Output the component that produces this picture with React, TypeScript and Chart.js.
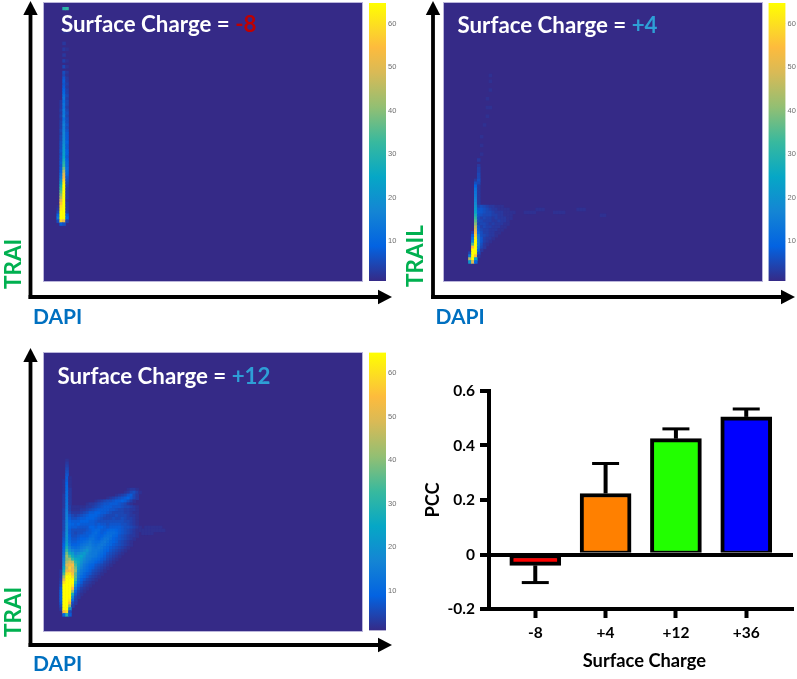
import React, { useEffect, useRef } from "react";
import { Chart, registerables } from "chart.js";

Chart.register(...registerables);

// ---------- data ----------
const barCategories = ["-8", "+4", "+12", "+36"];
const barValues = [-0.04, 0.224, 0.425, 0.505];
const barErrorTips = [-0.103, 0.334, 0.461, 0.534];
const barColors = ["#FF0000", "#FF8000", "#22FF00", "#0000FF"];
const barYTicks = [-0.2, 0, 0.2, 0.4, 0.6];
const colorbarTicks = [10, 20, 30, 40, 50, 60];
const colorbarStops = ["#352A87", "#0363E1", "#1485D4", "#06A7C6", "#38B99E", "#92BF73", "#D9BA56", "#FDBB3D", "#FCD52A", "#FFFF00"];
const colorbarStopAt = [0, 0.125, 0.25, 0.375, 0.5, 0.625, 0.75, 0.84, 0.9, 1];

// density rows: [row, first column, values of the following columns]
const densityMinus8 = [
  [0, 5, 30, 32], [4, 5, 2], [8, 5, 2, 2], [12, 5, 3], [14, 5, 3, 2], [16, 5, 3], [18, 5, 4, 2], [20, 5, 5, 2],
  [22, 5, 6, 3], [23, 5, 5, 2], [24, 5, 7, 3], [25, 5, 8, 3], [26, 5, 7, 4], [27, 5, 8, 3], [28, 5, 9, 4], [29, 5, 10, 4],
  [30, 5, 12, 5], [31, 5, 13, 4], [32, 4, 3, 11, 5], [33, 4, 3, 13, 5], [34, 4, 3, 12, 4], [35, 4, 4, 14, 5], [36, 4, 3, 13, 6],
  [37, 4, 4, 15, 5], [38, 4, 3, 12, 6], [39, 4, 4, 14, 6], [40, 4, 4, 16, 7], [41, 4, 4, 15, 6], [42, 4, 5, 16, 7], [43, 4, 4, 17, 8],
  [44, 4, 5, 17, 8], [45, 4, 5, 18, 8], [46, 4, 6, 18, 9], [47, 4, 6, 20, 8], [48, 4, 6, 21, 8], [49, 4, 7, 22, 9], [50, 4, 6, 23, 9],
  [51, 4, 7, 24, 8], [52, 4, 7, 27, 9], [53, 4, 8, 30, 10], [54, 4, 7, 32, 10], [55, 4, 8, 38, 11], [56, 4, 9, 44, 10], [57, 4, 12, 50, 9],
  [58, 4, 14, 52, 7], [59, 4, 18, 58, 6], [60, 4, 22, 62, 5], [61, 4, 28, 65, 4], [62, 4, 32, 65, 3], [63, 4, 36, 65, 3], [64, 4, 40, 65, 3],
  [65, 4, 44, 65, 3], [66, 4, 50, 65, 2], [67, 4, 56, 65, 3], [68, 3, 2, 60, 65, 3], [69, 3, 3, 62, 65, 3], [70, 3, 5, 65, 65, 4],
  [71, 3, 10, 65, 65, 8], [72, 3, 14, 65, 65, 10], [73, 3, 6, 58, 52, 4], [74, 4, 8, 6],
];
const densityPlus4 = [
  [23, 14, 2], [25, 14, 2], [28, 14, 2], [31, 13, 2], [34, 13, 2, 2], [37, 13, 2], [40, 12, 2], [44, 11, 2], [47, 11, 2], [50, 11, 2],
  [52, 10, 3], [54, 10, 3], [55, 10, 4], [56, 10, 4], [57, 10, 5], [58, 10, 5], [59, 9, 3, 6], [60, 9, 6, 5], [61, 9, 9, 3], [62, 9, 12, 3],
  [63, 9, 13, 3], [64, 9, 14, 3], [65, 9, 15, 3], [66, 9, 16, 3], [67, 9, 18, 3],
  [68, 9, 20, 5, 6, 5, 4, 3, 3, 2, 2, 2], [69, 9, 22, 7, 7, 6, 5, 4, 3, 3, 2, 2, 2, 2],
  [70, 9, 24, 8, 7, 6, 5, 5, 4, 3, 3, 3, 2, 2, 2, 2], [71, 9, 28, 7, 6, 5, 5, 5, 4, 4, 3, 3, 2, 2, 2],
  [72, 9, 32, 6, 4, 5, 4, 4, 3, 4, 3, 3, 3, 2, 2], [73, 9, 36, 6, 5, 4, 4, 4, 3, 3, 4, 3, 3, 2], [74, 9, 40, 5, 5, 5, 4, 3, 4, 3, 3, 3, 2, 2],
  [75, 9, 46, 7, 4, 5, 4, 4, 3, 3, 3, 2, 2], [76, 9, 50, 8, 5, 4, 4, 3, 3, 3, 2, 2], [77, 8, 4, 54, 10, 6, 4, 4, 3, 3, 2, 2],
  [78, 8, 8, 58, 14, 6, 5, 4, 3, 3, 2], [79, 8, 12, 62, 15, 7, 4, 3, 3, 2], [80, 8, 18, 65, 16, 7, 4, 3, 2], [81, 8, 35, 65, 16, 6, 3, 2],
  [82, 8, 55, 65, 14, 5, 3], [83, 8, 65, 65, 10, 3], [84, 7, 5, 65, 65, 6], [85, 7, 15, 65, 55, 3], [86, 7, 45, 65, 25], [87, 7, 22, 50, 10],
  [70, 26, 2, 2, 2, 2], [69, 30, 2, 2, 2], [70, 36, 2, 2, 2, 2], [69, 44, 2, 2, 2], [71, 52, 2, 2],
];
const densityPlus12 = [
  [35, 6, 2], [36, 6, 3], [37, 6, 4], [38, 6, 5], [39, 6, 6], [40, 6, 7], [41, 6, 8, 2], [42, 5, 2, 8, 2], [43, 5, 2, 9, 2], [44, 5, 2, 10, 2],
  [45, 5, 2, 10, 3], [45, 27, 2, 3, 3, 2],
  [46, 5, 2, 11, 3], [46, 26, 2, 3, 5, 6, 4, 2],
  [47, 5, 3, 11, 3], [47, 23, 2, 3, 4, 5, 7, 8, 5, 3],
  [48, 5, 3, 12, 3], [48, 20, 2, 3, 4, 5, 6, 7, 8, 9, 7, 5, 3],
  [49, 5, 3, 12, 3], [49, 16, 2, 3, 4, 5, 6, 6, 7, 8, 8, 9, 8, 6, 4, 2],
  [50, 5, 3, 13, 3], [50, 13, 2, 3, 3, 4, 5, 6, 7, 7, 8, 8, 8, 7, 6, 5, 3, 2],
  [51, 5, 3, 13, 4, 2, 2, 2, 2, 2, 3, 3, 4, 5, 6, 7, 8, 8, 8, 7, 7, 7, 6, 5, 5, 4, 3, 2],
  [52, 5, 4, 14, 4, 2, 2, 2, 3, 3, 4, 5, 6, 7, 8, 8, 8, 8, 7, 7, 6, 5, 5, 4, 4, 3, 3, 2],
  [53, 5, 4, 15, 5, 3, 3, 3, 4, 5, 6, 8, 8, 9, 9, 8, 8, 7, 6, 5, 5, 5, 5, 4, 4, 3, 2, 2],
  [54, 5, 4, 15, 7, 5, 4, 5, 6, 7, 8, 9, 9, 9, 8, 7, 6, 5, 5, 5, 6, 5, 5, 5, 4, 3, 3, 2],
  [55, 5, 4, 16, 8, 6, 6, 7, 8, 8, 9, 9, 9, 8, 7, 6, 5, 5, 5, 6, 5, 5, 6, 5, 4, 4, 3, 2],
  [56, 5, 5, 16, 9, 8, 8, 8, 9, 9, 9, 8, 8, 7, 6, 6, 6, 6, 6, 6, 6, 6, 6, 5, 5, 4, 3, 2],
  [57, 5, 5, 17, 10, 9, 8, 9, 8, 8, 8, 8, 8, 7, 8, 7, 7, 6, 7, 7, 7, 7, 6, 6, 5, 4, 3, 2],
  [58, 5, 5, 18, 9, 8, 8, 7, 7, 7, 7, 9, 9, 8, 9, 9, 8, 7, 8, 8, 8, 8, 7, 6, 6, 5, 4, 3, 2],
  [58, 33, 2, 2, 2, 2, 2, 2],
  [59, 5, 5, 18, 8, 6, 6, 6, 6, 6, 7, 8, 9, 10, 10, 8, 8, 9, 10, 10, 9, 8, 7, 6, 5, 4, 3, 2, 2],
  [59, 32, 2, 2, 2, 2, 2, 2, 2, 2],
  [60, 5, 6, 19, 8, 6, 5, 6, 6, 7, 8, 8, 10, 11, 9, 8, 9, 11, 11, 11, 10, 8, 7, 6, 5, 4, 3, 2],
  [60, 32, 2, 2, 2, 2],
  [61, 5, 6, 20, 9, 6, 6, 7, 8, 8, 8, 10, 11, 10, 9, 9, 11, 12, 12, 10, 9, 7, 6, 5, 4, 3, 3, 2],
  [62, 5, 7, 20, 10, 7, 7, 8, 9, 9, 10, 12, 12, 10, 9, 11, 13, 13, 11, 9, 8, 7, 6, 5, 4, 3, 2],
  [63, 5, 8, 22, 11, 8, 8, 9, 10, 11, 12, 14, 12, 11, 11, 13, 14, 12, 10, 9, 8, 6, 5, 4, 3, 2],
  [64, 5, 9, 24, 13, 9, 9, 10, 12, 13, 14, 15, 13, 12, 13, 14, 13, 11, 10, 8, 7, 6, 5, 4, 3, 2],
  [65, 5, 10, 28, 16, 12, 11, 12, 14, 15, 17, 16, 14, 13, 14, 13, 11, 10, 8, 7, 6, 5, 4, 3, 2],
  [66, 5, 11, 32, 20, 16, 14, 14, 16, 18, 20, 16, 14, 14, 13, 12, 10, 9, 7, 6, 5, 4, 3, 2],
  [67, 5, 12, 38, 26, 22, 16, 18, 20, 22, 18, 15, 14, 14, 12, 11, 9, 7, 6, 5, 4, 3, 2],
  [68, 5, 14, 42, 34, 26, 20, 22, 24, 20, 16, 15, 14, 13, 11, 10, 8, 6, 5, 4, 3, 2],
  [69, 5, 16, 40, 42, 32, 26, 24, 22, 18, 15, 14, 12, 11, 10, 8, 7, 5, 4, 3, 2],
  [70, 5, 18, 44, 48, 46, 30, 26, 20, 16, 14, 12, 11, 9, 8, 7, 5, 4, 3, 2],
  [71, 5, 20, 50, 52, 54, 34, 24, 18, 14, 12, 10, 9, 7, 6, 5, 4, 3, 2],
  [72, 5, 24, 46, 58, 50, 38, 22, 16, 13, 11, 9, 8, 6, 5, 4, 3, 2],
  [73, 4, 3, 28, 52, 55, 52, 40, 20, 14, 12, 10, 8, 6, 5, 4, 3, 2],
  [74, 4, 3, 34, 60, 62, 56, 36, 18, 13, 10, 8, 7, 5, 4, 3, 2],
  [75, 4, 3, 42, 65, 65, 60, 36, 16, 11, 9, 7, 5, 4, 3, 2],
  [76, 4, 4, 50, 65, 65, 65, 34, 14, 9, 7, 5, 4, 3, 2],
  [77, 4, 5, 60, 65, 65, 65, 28, 12, 8, 5, 4, 3, 2],
  [78, 4, 6, 65, 65, 65, 62, 20, 9, 6, 4, 3, 2],
  [79, 4, 8, 65, 65, 65, 55, 14, 7, 4, 3, 2],
  [80, 4, 10, 65, 65, 65, 42, 10, 5, 3, 2],
  [81, 4, 10, 65, 65, 65, 28, 7, 4, 2],
  [82, 4, 10, 65, 65, 65, 18, 5, 3],
  [83, 4, 10, 65, 65, 62, 12, 4],
  [84, 4, 8, 65, 65, 55, 6, 3],
  [85, 4, 6, 65, 65, 40, 4],
  [86, 4, 4, 65, 65, 20],
  [87, 5, 55, 60, 6],
  [88, 5, 10, 30, 8],
];

const FONT = "Lato, 'Open Sans', sans-serif";
const BG = "#352A87";
const HEAT_COLS = 106;
const HEAT_ROWS = 278 / 3;
const OVER_PAD = 12;

type Panel = {
  key: string; left: number; top: number; rows: number[][];
  imgX: number; imgY: number; barX: number;
  titleX: number; titleY: number; charge: string; chargeColor: string;
  yLabel: string; yLabelX: number; yLabelBottom: number;
  dapiX: number; dapiY: number;
  vX: number; vTop: number; hY: number; hEnd: number;
};

const panels: Panel[] = [
  { key: "a", left: 0, top: 0, rows: densityMinus8, imgX: 43.5, imgY: 3, barX: 369, titleX: 61, titleY: 32, charge: "-8", chargeColor: "#C00000", yLabel: "TRAI", yLabelX: 21, yLabelBottom: 289, dapiX: 33, dapiY: 324, vX: 30.5, vTop: 1, hY: 297, hEnd: 392 },
  { key: "b", left: 400, top: 0, rows: densityPlus4, imgX: 43.5, imgY: 3, barX: 368.5, titleX: 57.5, titleY: 33, charge: "+4", chargeColor: "#2E9FD6", yLabel: "TRAIL", yLabelX: 23, yLabelBottom: 287, dapiX: 35.5, dapiY: 324, vX: 33, vTop: 1, hY: 297, hEnd: 395 },
  { key: "c", left: 0, top: 340, rows: densityPlus12, imgX: 44, imgY: 12.5, barX: 369, titleX: 57.5, titleY: 44, charge: "+12", chargeColor: "#2E9FD6", yLabel: "TRAI", yLabelX: 21, yLabelBottom: 297, dapiX: 33, dapiY: 331, vX: 30.5, vTop: 8, hY: 305, hEnd: 392 },
];

function hexToRgb(h: string) {
  return [1, 3, 5].map((i) => parseInt(h.slice(i, i + 2), 16));
}
function colorOf(v: number) {
  const t = Math.min(1, Math.max(0, (v - 1) / 64));
  let i = 0;
  while (i < colorbarStopAt.length - 2 && t > colorbarStopAt[i + 1]) i++;
  const f = (t - colorbarStopAt[i]) / (colorbarStopAt[i + 1] - colorbarStopAt[i]);
  const a = hexToRgb(colorbarStops[i]);
  const b = hexToRgb(colorbarStops[i + 1]);
  return `rgb(${a.map((c, k) => Math.round(c + (b[k] - c) * f)).join(",")})`;
}
function toPoints(rows: number[][]) {
  return rows.flatMap(([r, c, ...vals]) => vals.map((v, i) => ({ x: c + i + 0.5, y: r + 0.5, v })));
}

function makeHeat(canvas: HTMLCanvasElement, rows: number[][]) {
  const points = toPoints(rows);
  return new Chart(canvas, {
    type: "scatter",
    data: {
      datasets: [{
        data: points as any,
        pointStyle: "rect",
        pointRadius: 2.5,
        pointBorderWidth: 0,
        pointBackgroundColor: points.map((p) => colorOf(p.v)),
      }],
    },
    options: {
      animation: false, responsive: false, events: [],
      layout: { padding: 0 },
      plugins: { legend: { display: false }, tooltip: { enabled: false } },
      scales: {
        x: { type: "linear", display: false, min: 0, max: HEAT_COLS },
        y: { type: "linear", display: false, min: 0, max: HEAT_ROWS, reverse: true },
      },
    },
  });
}

function arrow(ctx: CanvasRenderingContext2D, x1: number, y1: number, x2: number, y2: number) {
  const a = Math.atan2(y2 - y1, x2 - x1);
  const L = 14;
  const W = 7.2;
  const bx = x2 - L * Math.cos(a);
  const by = y2 - L * Math.sin(a);
  ctx.fillStyle = "#000";
  ctx.strokeStyle = "#000";
  ctx.lineWidth = 3.8;
  ctx.beginPath();
  ctx.moveTo(x1, y1);
  ctx.lineTo(bx, by);
  ctx.stroke();
  ctx.beginPath();
  ctx.moveTo(x2, y2);
  ctx.lineTo(bx - W * Math.sin(a), by + W * Math.cos(a));
  ctx.lineTo(bx + W * Math.sin(a), by - W * Math.cos(a));
  ctx.closePath();
  ctx.fill();
}

function makeOverlay(canvas: HTMLCanvasElement, p: Panel) {
  const annotate = {
    id: "annotate",
    afterDraw(chart: any) {
      const ctx = chart.ctx as CanvasRenderingContext2D;
      ctx.save();
      ctx.translate(0, OVER_PAD);
      arrow(ctx, p.vX, p.hY + 1.9, p.vX, p.vTop);
      arrow(ctx, p.vX - 1.9, p.hY, p.hEnd, p.hY);
      ctx.textBaseline = "alphabetic";
      ctx.textAlign = "left";
      ctx.font = `bold 22.3px ${FONT}`;
      const head = "Surface Charge = ";
      ctx.fillStyle = "#fff";
      ctx.fillText(head, p.titleX, p.titleY);
      ctx.fillStyle = p.chargeColor;
      ctx.fillText(p.charge, p.titleX + ctx.measureText(head).width, p.titleY);
      ctx.font = `bold 21px ${FONT}`;
      ctx.fillStyle = "#0070C0";
      ctx.fillText("DAPI", p.dapiX, p.dapiY);
      ctx.font = `bold 22.5px ${FONT}`;
      ctx.fillStyle = "#00B050";
      ctx.translate(p.yLabelX, p.yLabelBottom);
      ctx.rotate(-Math.PI / 2);
      ctx.fillText(p.yLabel, 0, 0);
      ctx.restore();
    },
  };
  return new Chart(canvas, {
    type: "bar",
    data: {
      labels: ["colorbar"],
      datasets: [{
        data: [[0.8, 64.8]] as any,
        barPercentage: 1,
        categoryPercentage: 1,
        backgroundColor: (c: any) => {
          const area = c.chart.chartArea;
          if (!area) return BG;
          const g = c.chart.ctx.createLinearGradient(0, area.bottom, 0, area.top);
          colorbarStops.forEach((s, i) => g.addColorStop(colorbarStopAt[i], s));
          return g;
        },
      }],
    },
    options: {
      animation: false, responsive: false, events: [],
      layout: { padding: { left: p.barX, top: p.imgY + OVER_PAD, bottom: 340 - p.imgY - 278, right: 0 } },
      plugins: { legend: { display: false }, tooltip: { enabled: false } },
      scales: {
        x: { display: false },
        y: {
          position: "right",
          min: 0.8,
          max: 64.8,
          afterBuildTicks: (s: any) => { s.ticks = colorbarTicks.map((value) => ({ value })); },
          afterFit: (s: any) => { s.width = 400 - p.barX - 17; },
          grid: { drawOnChartArea: false, tickLength: 0 },
          border: { display: false },
          ticks: { color: "#6E6E6E", padding: 2, font: { family: "'Liberation Sans', sans-serif", size: 7.5 } },
        },
      },
    },
    plugins: [annotate],
  });
}

function makeBars(canvas: HTMLCanvasElement) {
  const errorBars = {
    id: "errorBars",
    afterDatasetsDraw(chart: any) {
      const ctx = chart.ctx as CanvasRenderingContext2D;
      const xs = chart.scales.x;
      const ys = chart.scales.y;
      ctx.save();
      ctx.strokeStyle = "#000";
      barErrorTips.forEach((tip, i) => {
        const x = xs.getPixelForValue(i);
        const y0 = ys.getPixelForValue(barValues[i]);
        const y1 = ys.getPixelForValue(tip);
        ctx.lineWidth = 4;
        ctx.beginPath();
        ctx.moveTo(x, y0);
        ctx.lineTo(x, y1);
        ctx.stroke();
        ctx.lineWidth = 3;
        ctx.beginPath();
        ctx.moveTo(x - 13.5, y1);
        ctx.lineTo(x + 13.5, y1);
        ctx.stroke();
      });
      ctx.fillStyle = "#000";
      ctx.font = `bold 18.3px ${FONT}`;
      ctx.textAlign = "center";
      ctx.textBaseline = "middle";
      ctx.fillText("Surface Charge", 234.4, 291);
      ctx.restore();
    },
  };
  return new Chart(canvas, {
    type: "bar",
    data: {
      datasets: [{
        data: barValues.map((y, x) => ({ x, y })) as any,
        backgroundColor: barColors,
        borderColor: "#000",
        borderWidth: (c: any) => (c.dataIndex === 0 ? { top: 2, bottom: 4, left: 4, right: 4 } : { top: 4, bottom: 2, left: 4, right: 4 }),
        borderSkipped: false,
        barThickness: 51,
      }],
    },
    options: {
      animation: false, responsive: false, events: [],
      layout: { padding: { left: 0, right: 4, top: 21, bottom: 0 } },
      plugins: { legend: { display: false }, tooltip: { enabled: false } },
      scales: {
        x: {
          type: "linear",
          min: -0.658,
          max: 3.665,
          offset: false,
          afterBuildTicks: (s: any) => { s.ticks = barCategories.map((_, value) => ({ value })); },
          afterFit: (s: any) => { s.height = 309 - 239; },
          grid: { offset: false, drawOnChartArea: false, tickLength: 9, tickWidth: 4, tickColor: "#000" },
          border: { color: "#000", width: 4 },
          ticks: {
            autoSkip: false, maxRotation: 0, color: "#000", padding: 6,
            font: { family: FONT, weight: "bold", size: 15.5 },
            callback: (v: any) => barCategories[v],
          },
        },
        y: {
          type: "linear",
          min: -0.2,
          max: 0.6,
          afterBuildTicks: (s: any) => { s.ticks = barYTicks.map((value) => ({ value })); },
          afterFit: (s: any) => { s.width = 79; },
          grid: {
            color: "#000", tickColor: "#000", tickLength: 9, tickWidth: 4,
            lineWidth: (c: any) => (c.tick && c.tick.value === 0 ? 4 : 0),
          },
          border: { color: "#000", width: 4 },
          ticks: {
            color: "#000", padding: 5,
            font: { family: FONT, weight: "bold", size: 15.5 },
            callback: (v: any) => String(v),
          },
          title: { display: true, text: "PCC", color: "#000", padding: { top: 12, bottom: 0 }, font: { family: FONT, weight: "bold", size: 18.3 } },
        },
      },
    },
    plugins: [errorBars],
  });
}

export default function App() {
  const heatRefs = useRef<(HTMLCanvasElement | null)[]>([]);
  const overlayRefs = useRef<(HTMLCanvasElement | null)[]>([]);
  const barsRef = useRef<HTMLCanvasElement | null>(null);

  useEffect(() => {
    const charts: Chart[] = [];
    panels.forEach((p, i) => {
      charts.push(makeHeat(heatRefs.current[i]!, p.rows));
      charts.push(makeOverlay(overlayRefs.current[i]!, p));
    });
    charts.push(makeBars(barsRef.current!));
    return () => charts.forEach((c) => c.destroy());
  }, []);

  return (
    <div style={{ position: "absolute", left: 0, top: 0, width: 797, height: 679, overflow: "hidden", background: "#fff" }}>
      {panels.map((p, i) => (
        <React.Fragment key={p.key}>
          <div style={{ position: "absolute", left: p.left + p.imgX, top: p.top + p.imgY, width: 318, height: 278, overflow: "hidden", background: BG, boxShadow: "0 0 0 1px rgba(130,120,190,.55)" }}>
            <canvas ref={(el) => { heatRefs.current[i] = el; }} width={318} height={278} style={{ display: "block", filter: "blur(0.6px)" }} />
          </div>
          <canvas ref={(el) => { overlayRefs.current[i] = el; }} width={400} height={340 + OVER_PAD} style={{ position: "absolute", left: p.left, top: p.top - OVER_PAD }} />
        </React.Fragment>
      ))}
      <canvas ref={barsRef} width={387} height={309} style={{ position: "absolute", left: 410, top: 370 }} />
    </div>
  );
}
